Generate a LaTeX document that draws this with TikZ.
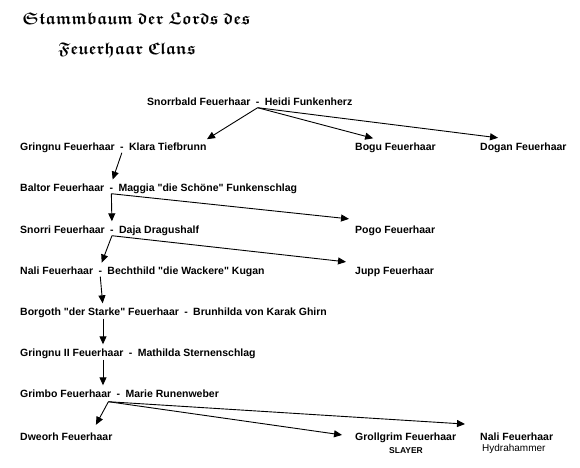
\documentclass[tikz,border=0pt]{standalone}
\usepackage{amsmath, amssymb}
\usepackage{fontspec}
\setmainfont{Liberation Sans}
\usetikzlibrary{arrows.meta, calc, positioning}

\begin{document}
\begin{tikzpicture}[x=1pt, y=-1pt, >={Triangle[length=8pt, width=7pt]},
    person/.style={anchor=base west, inner sep=0pt, text height=7.5pt, text depth=2.5pt, font=\bfseries\fontsize{10.5}{12}\selectfont},
    note/.style={inner sep=0pt, anchor=base, font=\fontsize{10}{12}\selectfont},
    titel/.style={anchor=base west, inner sep=0pt, font=\fontsize{17}{20}\selectfont\boldmath},
    link/.style={->, line width=0.9pt, shorten >=4pt}]
    \useasboundingbox (0,0) rectangle (580,467);
    % Titel
    \node[titel] (titel1) at (22,24) {$\mathfrak{Stammbaum\ der\ Lords\ des}$};
    \node[titel] (titel2) at (58,54) {$\mathfrak{Feuerhaar\ Clans}$};
    % Generationen
    \node[person] (h1) at (147,105) {Snorrbald Feuerhaar};
    \node[person, base right=5pt of h1] (d1) {-};
    \node[person, base right=5pt of d1] (w1) {Heidi Funkenherz};
    \node[person] (h2) at (20,150) {Gringnu Feuerhaar};
    \node[person, base right=5pt of h2] (d2) {-};
    \node[person, base right=5pt of d2] (w2) {Klara Tiefbrunn};
    \node[person] (bogu) at (355,150) {Bogu Feuerhaar};
    \node[person] (dogan) at (480,150) {Dogan Feuerhaar};
    \node[person] (h3) at (20,191) {Baltor Feuerhaar};
    \node[person, base right=5pt of h3] (d3) {-};
    \node[person, base right=5pt of d3] (w3) {Maggia \textquotedbl die Schöne\textquotedbl{} Funkenschlag};
    \node[person] (h4) at (20,233) {Snorri Feuerhaar};
    \node[person, base right=5pt of h4] (d4) {-};
    \node[person, base right=5pt of d4] (w4) {Daja Dragushalf};
    \node[person] (pogo) at (355,233) {Pogo Feuerhaar};
    \node[person] (h5) at (20,274) {Nali Feuerhaar};
    \node[person, base right=5pt of h5] (d5) {-};
    \node[person, base right=5pt of d5] (w5) {Bechthild \textquotedbl die Wackere\textquotedbl{} Kugan};
    \node[person] (jupp) at (355,274) {Jupp Feuerhaar};
    \node[person] (h6) at (20,315) {Borgoth \textquotedbl der Starke\textquotedbl{} Feuerhaar};
    \node[person, base right=5pt of h6] (d6) {-};
    \node[person, base right=5pt of d6] (w6) {Brunhilda von Karak Ghirn};
    \node[person] (h7) at (20,356) {Gringnu II Feuerhaar};
    \node[person, base right=5pt of h7] (d7) {-};
    \node[person, base right=5pt of d7] (w7) {Mathilda Sternenschlag};
    \node[person] (h8) at (20,397) {Grimbo Feuerhaar};
    \node[person, base right=5pt of h8] (d8) {-};
    \node[person, base right=5pt of d8] (w8) {Marie Runenweber};
    \node[person] (dweorh) at (20,440) {Dweorh Feuerhaar};
    \node[person] (groll) at (355,440) {Grollgrim Feuerhaar};
    \node[note, font=\bfseries\fontsize{8.5}{10}\selectfont] (slayer) at (406,453) {SLAYER};
    \node[person] (nali) at (480,440) {Nali Feuerhaar};
    \node[note, anchor=base west] (hydra) at (482,451) {Hydrahammer};
    % Verbindungen
    \draw[link] (d1.south) -- ($(w2.north east)+(-3,-1)$);
    \draw[link] (d1.south) -- ($(bogu.north west)+(22,-3)$);
    \draw[link] (d1.south) -- ($(dogan.north west)+(22,-4)$);
    \draw[link] (d2.south) -- (d3.north);
    \draw[link] (d3.south) -- (d4.north);
    \draw[link] (d3.south) -- ($(pogo.north west)+(-2,-6)$);
    \draw[link] (d4.south) -- (d5.north);
    \draw[link] (d4.south) -- ($(jupp.north west)+(-5,-4)$);
    \draw[link] (d5.south) -- ($(h6.north west)+(83,0)$);
    \draw[link] ($(h6.south west)+(83,1)$) -- ($(h7.north west)+(83,0)$);
    \draw[link] ($(h7.south west)+(83,1)$) -- ($(h8.north west)+(83,0)$);
    \draw[link] ($(h8.south east)+(-3,2)$) -- ($(dweorh.north west)+(74,-4)$);
    \draw[link] ($(h8.south east)+(-3,2)$) -- ($(groll.west)+(-9,-2)$);
    \draw[link] ($(h8.south east)+(-3,2)$) -- ($(nali.north west)+(-11,-8)$);
\end{tikzpicture}
\end{document}
